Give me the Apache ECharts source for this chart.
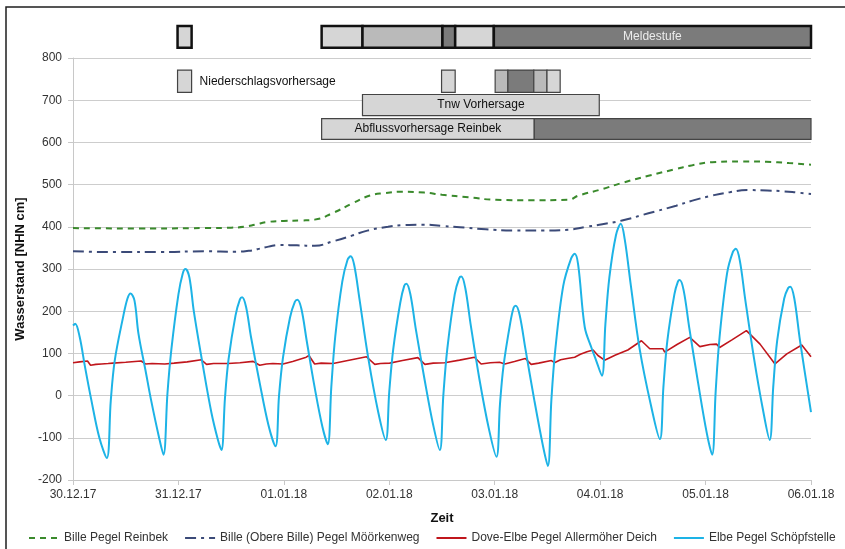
<!DOCTYPE html>
<html>
<head>
<meta charset="utf-8">
<script src="https://cdn.jsdelivr.net/npm/echarts@6/dist/echarts.min.js"></script>
<style>html,body{margin:0;padding:0;background:#fff;}#c{width:845px;height:549px;}</style>
</head>
<body>
<div id="c"></div>
<script>
// x values are hours since 30.12.17 00:00
const xTickLabels = ['30.12.17','31.12.17','01.01.18','02.01.18','03.01.18','04.01.18','05.01.18','06.01.18'];
const yTickValues = [-200,-100,0,100,200,300,400,500,600,700,800];
const seriesNames = ['Bille Pegel Reinbek','Bille (Obere Bille) Pegel Möörkenweg','Dove-Elbe Pegel Allermöher Deich','Elbe Pegel Schöpfstelle'];

const billeReinbek = [[0,397],[15,396],[30,397],[36,398],[39,400],[41.5,405],[44,411],[48,414],[52,415],[55,417],[59.4,434],[63.5,455],[67.6,474],[71,480],[75,483],[80,481],[84,476],[90,470],[96.3,464],[104,463],[112.7,464],[115.1,474],[120,488],[125,504],[131,521],[137.3,537],[141,546],[145.5,553],[152,555],[157.8,554],[163,551],[168,547]];

const billeObere = [[0,342],[10,340],[20,340],[30,342],[37,341],[40,343],[42,347],[44.5,353],[47,357],[51,356],[55,355],[59,365],[63.5,379],[67,391],[71.7,400],[75.5,404],[79.9,405],[84,402],[88.1,399],[94,394],[100.4,391],[107,391],[112.7,393],[116.8,400],[120.5,406],[125,415],[131,432],[137.3,450],[141,462],[145.5,474],[149.5,482],[153.7,487],[158,486],[161.9,484],[165,481],[168,478]];

const doveElbe = [[0,78],[1.5,80],[3.3,82],[4.0,72],[5.2,74],[6.5,75],[8,76],[9.1,77],[12,79],[15.5,82],[16.5,75],[18,76],[20.9,75],[23,77],[26,80],[29.2,85],[30.4,74],[32,76],[35.3,76],[38,78],[41,81],[42.5,72],[44,75],[45.5,76],[47.8,75],[50,81],[53.1,91],[53.7,95],[55,75],[56.5,77],[59.2,76],[62,82],[66.8,92],[68.7,74],[70,76],[72.1,77],[75,83],[78.5,90],[80.1,74],[82,77],[84.6,78],[88,84],[91.4,91],[92.9,75],[95,78],[97.1,79],[98.3,75],[100.5,81],[102.97,88],[104.3,74],[106,77],[108.9,83],[109.6,78],[111,85],[112.5,88],[114.2,91],[115.5,98],[117,104],[118.4,108],[119.5,95],[121,84],[123.5,96],[126.3,108],[129.4,130],[131.3,111],[134.3,111],[134.7,103],[137.5,121],[140.4,138],[142.7,116],[145,121],[146.5,122],[147.2,114],[150,132],[153.3,154],[156.4,122],[159.8,75],[162.5,99],[165.9,120],[168,92]];

const elbe = [[0,166],[0.5,170],[1.5,140],[2.7,70],[4.2,-12],[6,-100],[7.7,-148],
 [8.6,-12],[9.5,83],[11.4,186],[12.4,230],[13.1,242],
 [14,225],[14.9,147],[16.5,60],[17.8,-12],[19.5,-95],[20.6,-140],
 [21.5,5],[22.4,110],[24,240],[25,290],[25.6,300],
 [26.5,280],[27.5,200],[29.5,75],[31.5,-40],[33,-105],[33.8,-129],
 [34.6,-5],[35.4,85],[37,190],[38,228],[38.5,233],
 [39.4,210],[40.5,140],[42.5,30],[44.5,-70],[46.1,-120],
 [46.9,0],[47.8,90],[49.4,185],[50.5,222],[51.1,227],
 [52,205],[53.2,130],[55,20],[56.8,-75],[58.0,-115],
 [58.8,20],[59.7,140],[61.3,270],[62.5,322],[63.2,330],
 [64,310],[65.2,230],[67.2,90],[69.5,-40],[71.2,-105],
 [72,10],[72.9,110],[74.5,220],[75.4,260],[75.9,265],
 [76.8,240],[78,160],[80,40],[82,-70],[83.5,-129],
 [84.3,0],[85.2,110],[86.9,240],[87.9,278],[88.4,282],
 [89.3,255],[90.5,170],[92.5,40],[94.7,-80],[96.4,-145],
 [97.2,-20],[98,70],[99.5,170],[100.3,208],[100.8,213],
 [101.7,190],[103,110],[105,-10],[107,-120],[108.1,-167],
 [108.9,-10],[109.8,110],[111.6,260],[113.4,325],[114.2,336],
 [115,310],[116.5,162],[118,114],[119.1,83],[120.4,47],
 [121.2,170],[122.1,280],[123.6,380],[124.7,407],
 [125.6,370],[127,260],[129,110],[131.5,-20],[133.6,-103],
 [134.4,20],[135.3,130],[136.9,240],[137.7,270],[138.1,274],
 [139,250],[140.3,160],[142.3,30],[144.3,-90],[145.5,-140],
 [146.3,10],[147.2,140],[148.9,290],[150.2,340],[150.9,348],
 [151.8,320],[153,230],[155,90],[157,-30],[158.6,-105],
 [159.4,20],[160.3,130],[161.9,230],[162.8,255],[163.3,258],
 [164.2,230],[165.5,130],[168,-39]];

// status rows: [start hour, end hour, shade index 0=light 1=medium 2=dark]
const meldestufeSegments = [[23.8,27.0,0],[56.6,65.9,0],[65.9,84.1,1],[84.1,87.0,2],[87.0,95.8,0],[95.8,168,2]];
const meldestufeLabels = ['','','','','','Meldestufe'];
const niederschlagSegments = [[23.8,27.0,0],[83.9,87.0,0],[96.1,99.0,1],[99.0,104.9,2],[104.9,107.9,1],[107.9,110.9,0]];
const niederschlagLabels = ['Niederschlagsvorhersage','','','','',''];
const tnwSegments = [[65.9,119.8,0]];
const tnwLabels = ['Tnw Vorhersage'];
const abflussSegments = [[56.6,105.0,0],[105.0,168,2]];
const abflussLabels = ['Abflussvorhersage Reinbek',''];

const shades = ['#d6d6d6','#bababa','#7b7b7b'];
const FONT = '"Liberation Sans", Arial, sans-serif';

function rowRenderer(top, bottom, stroke, lw, labels, labelColor, labelOutside) {
  return function (params, api) {
    const s = api.value(0), e = api.value(1), sh = api.value(2);
    const p1 = api.coord([s, top]);
    const p2 = api.coord([e, bottom]);
    const children = [{
      type: 'rect',
      shape: { x: p1[0], y: p1[1], width: p2[0] - p1[0], height: p2[1] - p1[1] },
      style: { fill: shades[sh], stroke: stroke, lineWidth: lw }
    }];
    const lab = labels[params.dataIndex];
    if (lab) {
      children.push({
        type: 'text',
        x: labelOutside ? p2[0] + 8 : (p1[0] + p2[0]) / 2,
        y: (p1[1] + p2[1]) / 2,
        style: { text: lab, fill: labelColor, font: '12px ' + FONT, align: labelOutside ? 'left' : 'center', verticalAlign: 'middle' }
      });
    }
    return { type: 'group', children: children };
  };
}

const chart = echarts.init(document.getElementById('c'), null, { renderer: 'canvas' });
const option = {
  animation: false,
  backgroundColor: '#fff',
  textStyle: { fontFamily: FONT },
  graphic: [{
    type: 'rect', z: 100, silent: true,
    shape: { x: 6, y: 7, width: 900, height: 600 },
    style: { fill: 'none', stroke: '#1e1e1e', lineWidth: 1.5 }
  }],
  grid: { left: 73, right: 34, top: 58, bottom: 69 },
  legend: {
    top: 527, left: 23,
    itemWidth: 30, itemHeight: 10, itemGap: 16,
    itemStyle: { opacity: 0 },
    textStyle: { fontSize: 12, color: '#333', fontFamily: FONT },
    data: seriesNames
  },
  xAxis: {
    type: 'value', min: 0, max: 168, interval: 24,
    name: 'Zeit', nameLocation: 'middle', nameGap: 32,
    nameTextStyle: { fontWeight: 'bold', fontSize: 13, color: '#111', fontFamily: FONT },
    axisLine: { onZero: false, lineStyle: { color: '#c8c8c8', width: 1 } },
    axisTick: { show: true, length: 5, lineStyle: { color: '#c8c8c8' } },
    axisLabel: { margin: 9, fontSize: 12, color: '#333', fontFamily: FONT,
      formatter: v => xTickLabels[Math.round(v / 24)] },
    splitLine: { show: false }
  },
  yAxis: {
    type: 'value', min: -200, max: 800, interval: 100,
    name: 'Wasserstand [NHN cm]', nameLocation: 'middle', nameGap: 45,
    nameTextStyle: { fontWeight: 'bold', fontSize: 13, color: '#111', fontFamily: FONT },
    axisLine: { show: true, lineStyle: { color: '#c8c8c8', width: 1 } },
    axisTick: { show: true, length: 5, lineStyle: { color: '#c8c8c8' } },
    axisLabel: { margin: 11, fontSize: 12, color: '#333', fontFamily: FONT,
      formatter: v => (yTickValues.indexOf(v) >= 0 ? String(v) : '') },
    splitLine: { show: true, lineStyle: { color: '#cdcdcd', width: 1.2 } }
  },
  series: [
    { name: seriesNames[0], type: 'line', data: billeReinbek, symbol: 'none', smooth: 0.5,
      lineStyle: { color: '#3a8a2c', width: 2, type: [6, 5] }, itemStyle: { color: '#3a8a2c' } },
    { name: seriesNames[1], type: 'line', data: billeObere, symbol: 'none', smooth: 0.5,
      lineStyle: { color: '#3b4a78', width: 2, type: [11, 5, 3, 5] }, itemStyle: { color: '#3b4a78' } },
    { name: seriesNames[2], type: 'line', data: doveElbe, symbol: 'none', smooth: false,
      lineStyle: { color: '#c0161c', width: 1.6 }, itemStyle: { color: '#c0161c' } },
    { name: seriesNames[3], type: 'line', data: elbe, symbol: 'none', smooth: 0.35,
      lineStyle: { color: '#1db3e6', width: 2 }, itemStyle: { color: '#1db3e6' } },
    { type: 'custom', clip: false, silent: true, data: meldestufeSegments,
      renderItem: rowRenderer(876, 824, '#111', 2.5, meldestufeLabels, '#ececec', false) },
    { type: 'custom', clip: false, silent: true, data: niederschlagSegments,
      renderItem: rowRenderer(771.5, 718.5, '#444', 1.2, niederschlagLabels, '#111', true) },
    { type: 'custom', clip: false, silent: true, data: tnwSegments,
      renderItem: rowRenderer(713.5, 663.5, '#444', 1.2, tnwLabels, '#111', false) },
    { type: 'custom', clip: false, silent: true, data: abflussSegments,
      renderItem: rowRenderer(656.5, 607, '#444', 1.2, abflussLabels, '#111', false) }
  ]
};
chart.setOption(option);
</script>
</body>
</html>
